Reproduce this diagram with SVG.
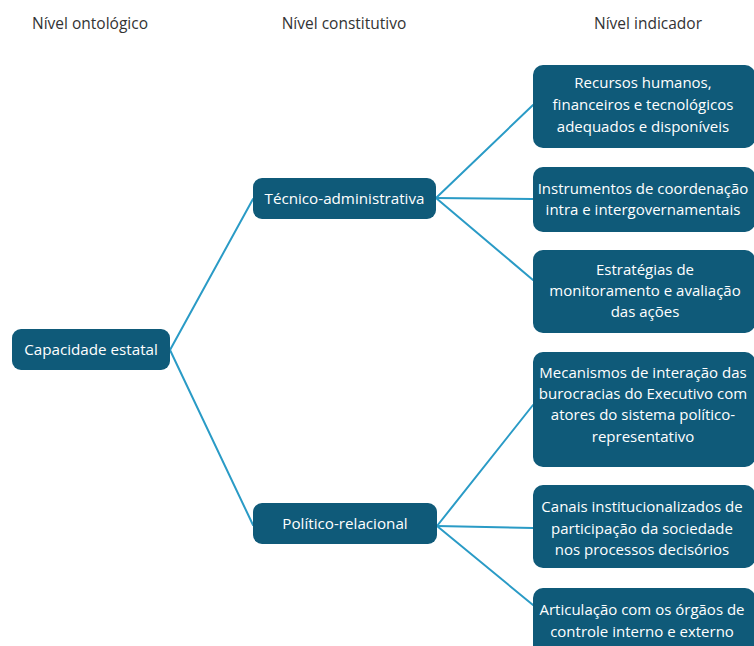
<svg xmlns="http://www.w3.org/2000/svg" width="754" height="646" viewBox="0 0 754 646">
  <style>
    .hdr { font-family: "Open Sans", "Liberation Sans", sans-serif; font-size: 15.5px; fill: #333333; text-anchor: middle; }
    .box { fill: #0f5a79; }
    .lbl { font-family: "Open Sans", "Liberation Sans", sans-serif; font-size: 15.2px; fill: #ffffff; text-anchor: middle; }
    .ind { font-family: "Open Sans", "Liberation Sans", sans-serif; font-size: 15px; fill: #ffffff; text-anchor: middle; }
    .link { stroke: #2a9bc6; stroke-width: 2; fill: none; stroke-linecap: round; }
  </style>

  <!-- column headers -->
  <g id="headers">
    <text class="hdr" x="90" y="29">Nível ontológico</text>
    <text class="hdr" x="344" y="29">Nível constitutivo</text>
    <text class="hdr" x="648" y="29">Nível indicador</text>
  </g>

  <!-- connectors -->
  <g id="connectors">
    <line class="link" x1="170" y1="350" x2="253" y2="199"/>
    <line class="link" x1="170" y1="350" x2="253" y2="525"/>
    <line class="link" x1="436" y1="198" x2="533" y2="105"/>
    <line class="link" x1="436" y1="198" x2="533" y2="199"/>
    <line class="link" x1="436" y1="198" x2="533" y2="280"/>
    <line class="link" x1="437" y1="526" x2="533" y2="405"/>
    <line class="link" x1="437" y1="526" x2="533" y2="528"/>
    <line class="link" x1="437" y1="526" x2="533" y2="605"/>
  </g>

  <!-- level 1 -->
  <g id="capacidade-estatal">
    <rect class="box" x="12" y="329" width="158" height="41" rx="9"/>
    <text class="lbl" x="91" y="355">Capacidade estatal</text>
  </g>

  <!-- level 2 -->
  <g id="tecnico-administrativa">
    <rect class="box" x="253" y="178" width="183" height="41" rx="9"/>
    <text class="lbl" x="344.5" y="204">Técnico-administrativa</text>
  </g>
  <g id="politico-relacional">
    <rect class="box" x="253" y="503" width="184" height="41" rx="9"/>
    <text class="lbl" x="345" y="529">Político-relacional</text>
  </g>

  <!-- level 3 -->
  <g id="recursos">
    <rect class="box" x="533" y="65" width="222" height="83" rx="10"/>
    <text class="ind" x="643" y="88">Recursos humanos,</text>
    <text class="ind" x="643" y="110">financeiros e tecnológicos</text>
    <text class="ind" x="643" y="132">adequados e disponíveis</text>
  </g>
  <g id="instrumentos">
    <rect class="box" x="533" y="167" width="222" height="65" rx="10"/>
    <text class="ind" x="643" y="194">Instrumentos de coordenação</text>
    <text class="ind" x="643" y="215">intra e intergovernamentais</text>
  </g>
  <g id="estrategias">
    <rect class="box" x="533" y="250" width="222" height="83" rx="10"/>
    <text class="ind" x="645" y="275">Estratégias de</text>
    <text class="ind" x="645" y="296">monitoramento e avaliação</text>
    <text class="ind" x="645" y="317">das ações</text>
  </g>
  <g id="mecanismos">
    <rect class="box" x="533" y="352" width="222" height="115" rx="10"/>
    <text class="ind" x="643" y="378">Mecanismos de interação das</text>
    <text class="ind" x="643" y="399">burocracias do Executivo com</text>
    <text class="ind" x="643" y="420">atores do sistema político-</text>
    <text class="ind" x="643" y="442">representativo</text>
  </g>
  <g id="canais">
    <rect class="box" x="533" y="485" width="222" height="83" rx="10"/>
    <text class="ind" x="642" y="512">Canais institucionalizados de</text>
    <text class="ind" x="642" y="534">participação da sociedade</text>
    <text class="ind" x="642" y="555">nos processos decisórios</text>
  </g>
  <g id="articulacao">
    <rect class="box" x="533" y="588" width="222" height="70" rx="10"/>
    <text class="ind" x="642" y="615">Articulação com os órgãos de</text>
    <text class="ind" x="642" y="637">controle interno e externo</text>
  </g>
</svg>
